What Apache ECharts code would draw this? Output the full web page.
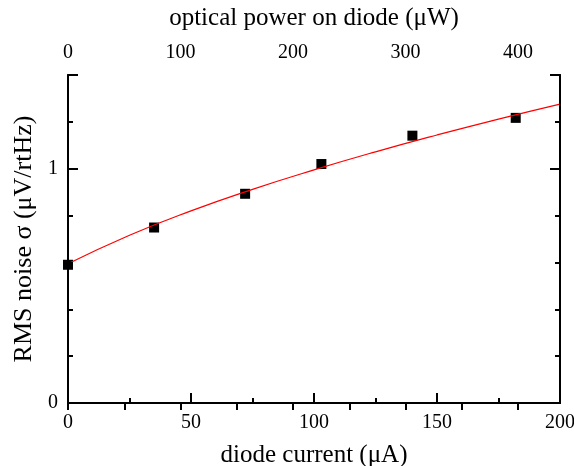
<!DOCTYPE html>
<html>
<head>
<meta charset="utf-8">
<script src="https://cdn.jsdelivr.net/npm/echarts@6/dist/echarts.min.js"></script>
<style>
  html, body { margin: 0; padding: 0; background: #fff; }
  #chart { width: 574px; height: 466px; }
</style>
</head>
<body>
<div id="chart"></div>
<script>
  // measured points
  const currentUA = [0, 35, 72, 103, 140, 182]
  const noise = [0.590, 0.749, 0.893, 1.020, 1.141, 1.217]
  // fit curve
  const fitCurrent = [0, 25, 50, 75, 100, 125, 150, 175, 200]
  const fitNoise = [0.594, 0.716, 0.820, 0.912, 0.995, 1.072, 1.144, 1.212, 1.276]
  // top axis (optical power) range matching 0-200 uA
  const powerMax = 437.3
  const yLabels = [0, 1]

  const font = 'Liberation Serif'
  const black = '#000'

  const chart = echarts.init(document.getElementById('chart'), null, { renderer: 'canvas' })

  function yAxisOf(position, interval, tickLen, showLabel) {
    return {
      type: 'value',
      position: position,
      min: 0,
      max: 1.4,
      interval: interval,
      z: 5,
      axisLine: { show: true, lineStyle: { color: black, width: 2 } },
      axisTick: { show: true, inside: true, length: tickLen, lineStyle: { color: black, width: 2 } },
      axisLabel: {
        show: showLabel,
        margin: 10,
        color: black,
        fontFamily: font,
        fontSize: 20,
        formatter: v => (yLabels.indexOf(Math.round(v * 10) / 10) >= 0 ? String(Math.round(v)) : '')
      },
      splitLine: { show: false },
      name: showLabel ? 'RMS noise σ (μV/rtHz)' : '',
      nameLocation: 'middle',
      nameGap: 25,
      nameTextStyle: { color: black, fontFamily: font, fontSize: 26 }
    }
  }

  const data = currentUA.map((x, i) => [x, noise[i]])
  const fit = fitCurrent.map((x, i) => [x, fitNoise[i]])

  chart.setOption({
    animation: false,
    backgroundColor: '#fff',
    grid: { left: 68, right: 14, top: 75, bottom: 63, containLabel: false, outerBoundsMode: 'none' },
    xAxis: [{
      type: 'value',
      position: 'bottom',
      min: 0,
      max: 200,
      interval: 50,
      axisLine: { show: true, lineStyle: { color: black, width: 2 } },
      axisTick: { show: true, inside: true, length: 10, lineStyle: { color: black, width: 2 } },
      minorTick: { show: true, splitNumber: 2, length: 5, lineStyle: { color: black, width: 2 } },
      axisLabel: { margin: 10, color: black, fontFamily: font, fontSize: 20 },
      splitLine: { show: false },
      name: 'diode current (μA)',
      nameLocation: 'middle',
      nameGap: 40,
      nameTextStyle: { color: black, fontFamily: font, fontSize: 25 }
    }, {
      type: 'value',
      position: 'top',
      min: 0,
      max: powerMax,
      interval: 50,
      axisLine: { show: true, lineStyle: { color: black, width: 2 } },
      axisTick: { show: true, inside: true, length: 7, lineStyle: { color: black, width: 2 } },
      axisLabel: {
        margin: 12,
        color: black,
        fontFamily: font,
        fontSize: 20,
        showMaxLabel: false,
        formatter: v => (v % 100 === 0 ? String(v) : '')
      },
      splitLine: { show: false },
      name: 'optical power on diode (μW)',
      nameLocation: 'middle',
      nameGap: 44,
      nameTextStyle: { color: black, fontFamily: font, fontSize: 25 }
    }],
    yAxis: [
      yAxisOf('left', 0.2, 5, true),
      yAxisOf('left', 1, 10, false),
      yAxisOf('right', 0.2, 5, false),
      yAxisOf('right', 1, 10, false)
    ],
    series: [{
      type: 'line',
      data: fit,
      smooth: true,
      showSymbol: false,
      xAxisIndex: 0,
      yAxisIndex: 0,
      lineStyle: { color: '#ff0000', width: 1.2 },
      z: 3
    }, {
      type: 'scatter',
      data: data,
      symbol: 'rect',
      symbolSize: 10,
      xAxisIndex: 0,
      yAxisIndex: 0,
      itemStyle: { color: black, opacity: 1 },
      z: 2
    }]
  })
</script>
</body>
</html>
